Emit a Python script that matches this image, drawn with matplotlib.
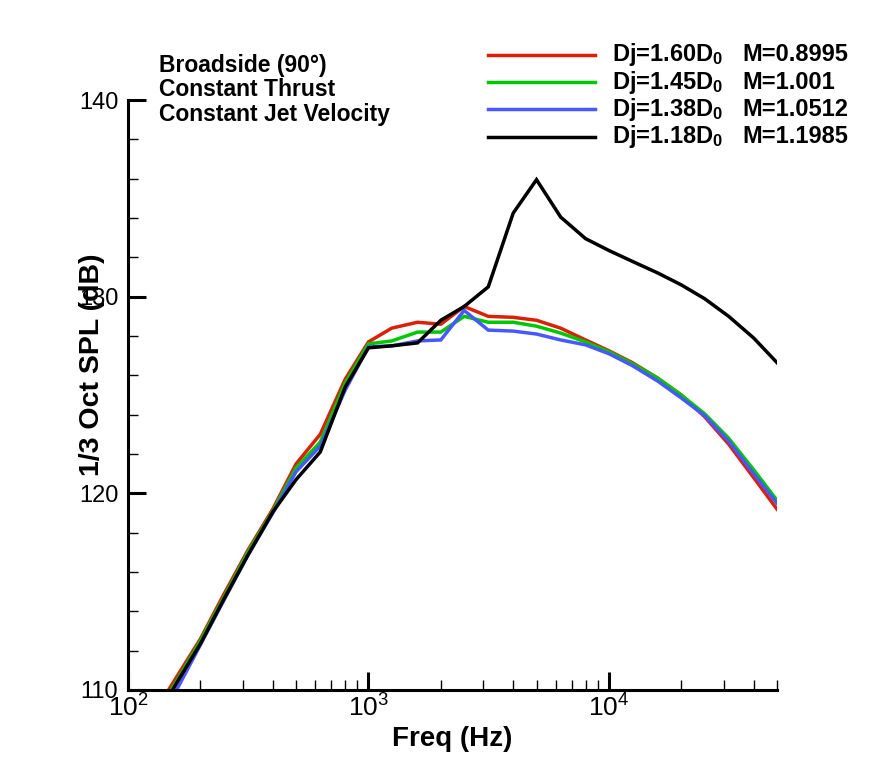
import matplotlib
matplotlib.use("Agg")
import matplotlib.pyplot as plt
from matplotlib.ticker import LogLocator, MultipleLocator, NullFormatter

plt.rcParams["font.family"] = ["Liberation Sans", "DejaVu Sans"]
plt.rcParams["mathtext.fontset"] = "custom"
plt.rcParams["mathtext.rm"] = "Liberation Sans"
plt.rcParams["mathtext.bf"] = "Liberation Sans:bold"
plt.rcParams["mathtext.it"] = "Liberation Sans"

# 1/3 octave band centre frequencies (Hz)
freq = [125, 160, 200, 250, 315, 400, 500, 630, 800, 1000, 1250, 1600, 2000,
        2500, 3150, 4000, 5000, 6300, 8000, 10000, 12500, 16000, 20000,
        25000, 31500, 40000, 50000]

spl_160 = [108.6, 110.7, 112.6, 114.85, 117.1, 119.2, 121.5, 123.0, 125.8, 127.7,
           128.4, 128.7, 128.6, 129.5, 129.0, 128.95, 128.8, 128.4, 127.8, 127.25,
           126.65, 125.85, 125.0, 123.9, 122.5, 120.8, 119.2]
spl_145 = [108.4, 110.5, 112.5, 114.7, 117.0, 119.1, 121.3, 122.6, 125.6, 127.6,
           127.75, 128.2, 128.2, 129.0, 128.7, 128.7, 128.5, 128.15, 127.7, 127.2,
           126.6, 125.85, 125.0, 124.05, 122.8, 121.2, 119.65]
spl_138 = [107.9, 110.05, 112.3, 114.55, 116.85, 119.0, 121.1, 122.4, 125.25, 127.45,
           127.5, 127.75, 127.8, 129.3, 128.3, 128.25, 128.1, 127.8, 127.55, 127.1,
           126.5, 125.7, 124.85, 123.95, 122.65, 121.0, 119.5]
spl_118 = [108.1, 110.4, 112.35, 114.6, 116.85, 119.05, 120.7, 122.1, 125.4, 127.4,
           127.5, 127.65, 128.8, 129.5, 130.5, 134.25, 135.95, 134.05, 132.95, 132.35,
           131.8, 131.2, 130.6, 129.9, 129.0, 127.9, 126.65]

dj_labels = [r"Dj=1.60D$_\mathbf{0}$", r"Dj=1.45D$_\mathbf{0}$",
             r"Dj=1.38D$_\mathbf{0}$", r"Dj=1.18D$_\mathbf{0}$"]
mach_labels = ["M=0.8995", "M=1.001", "M=1.0512", "M=1.1985"]
colors = ["#DC2008", "#00C800", "#4858FF", "#000000"]
series = [spl_160, spl_145, spl_138, spl_118]

info_lines = ["Broadside (90\u00b0)", "Constant Thrust", "Constant Jet Velocity"]

fig = plt.figure(figsize=(8.71, 7.70), dpi=100, facecolor="white")
ax = fig.add_axes([0.147, 0.1039, 0.745, 0.7662])

for y, c in zip(series, colors):
    ax.plot(freq, y, color=c, lw=2.5, solid_joinstyle="miter")

ax.set_xscale("log")
ax.set_xlim(100, 50000)
ax.set_ylim(110, 140)
ax.set_yticks([110, 120, 130, 140])
ax.yaxis.set_minor_locator(MultipleLocator(2))
ax.xaxis.set_major_locator(LogLocator(base=10, numticks=10))
ax.xaxis.set_minor_locator(LogLocator(base=10, subs=range(2, 10), numticks=20))
ax.xaxis.set_minor_formatter(NullFormatter())

for s in ["top", "right"]:
    ax.spines[s].set_visible(False)
for s in ["left", "bottom"]:
    ax.spines[s].set_linewidth(2.2)

ax.tick_params(which="major", direction="in", length=13, width=2.2, labelsize=17)
ax.tick_params(which="minor", direction="in", length=7, width=1.0)
ax.tick_params(axis="y", which="major", pad=7)
ax.tick_params(axis="x", which="major", pad=3, labelsize=19)

ax.set_xlabel("Freq (Hz)", fontsize=20, fontweight="bold", labelpad=3)
ax.set_ylabel("1/3 Oct SPL (dB)", fontsize=20.5, fontweight="bold")
ax.yaxis.set_label_coords(-0.036, 0.552)

for i, t in enumerate(info_lines):
    ax.text(0.048, 1.059 - i * 0.0415, t, transform=ax.transAxes,
            fontsize=16.5, fontweight="bold", va="center", ha="left")

for i, (dj, m, c) in enumerate(zip(dj_labels, mach_labels, colors)):
    yy = 1.077 - i * 0.0465
    ax.plot([0.555, 0.72], [yy, yy], transform=ax.transAxes, color=c,
            lw=2.5, clip_on=False)
    ax.text(0.746, yy, dj, transform=ax.transAxes, fontsize=17,
            fontweight="bold", va="center", ha="left")
    ax.text(0.946, yy, m, transform=ax.transAxes, fontsize=17,
            fontweight="bold", va="center", ha="left")

fig.savefig("out.png", dpi=100, facecolor="white")
